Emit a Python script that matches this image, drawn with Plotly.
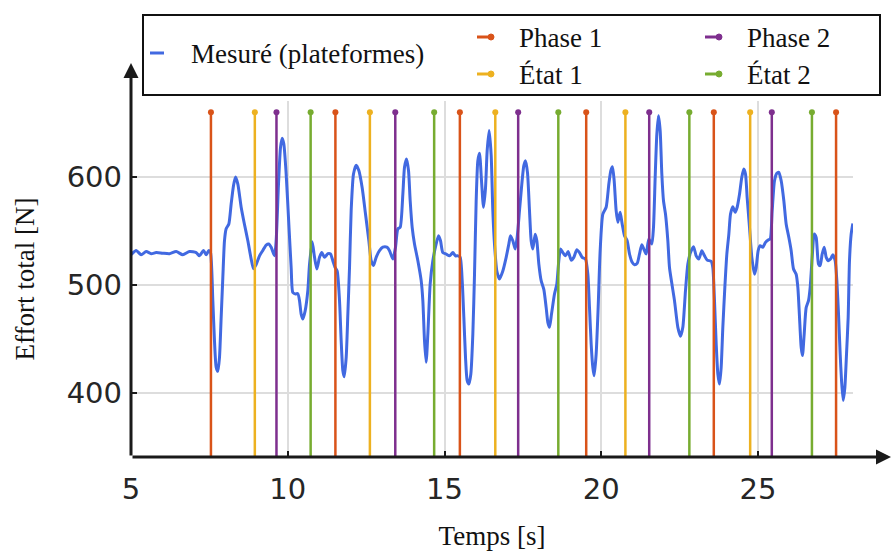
import plotly.graph_objects as go

# ---- data ----
temps = [5.00, 5.165, 5.324, 5.484, 5.643, 5.803, 6.0, 6.228, 6.441, 6.653, 6.866, 7.079, 7.185, 7.312, 7.398, 7.483,
         7.536, 7.610, 7.663, 7.716, 7.770, 7.823, 7.876, 7.929, 7.982, 8.035, 8.121, 8.195, 8.269, 8.333, 8.408,
         8.514, 8.620, 8.727, 8.833, 8.907, 8.992, 9.099, 9.205, 9.311, 9.396, 9.471, 9.577, 9.630, 9.705, 9.769,
         9.822, 9.875, 9.949, 10.034, 10.109, 10.162, 10.247, 10.321, 10.375, 10.428, 10.481, 10.555, 10.641, 10.694,
         10.78, 10.854, 10.928, 11.013, 11.087, 11.173, 11.279, 11.364, 11.438, 11.513, 11.576, 11.651, 11.704, 11.757,
         11.800, 11.864, 11.917, 11.970, 12.023, 12.097, 12.183, 12.268, 12.374, 12.480, 12.587, 12.661, 12.735,
         12.820, 12.927, 13.033, 13.161, 13.246, 13.352, 13.437, 13.512, 13.586, 13.671, 13.724, 13.788, 13.852,
         13.905, 13.969, 14.043, 14.150, 14.256, 14.309, 14.362, 14.415, 14.469, 14.543, 14.628, 14.734, 14.809,
         14.873, 14.947, 15.053, 15.160, 15.266, 15.351, 15.426, 15.500, 15.564, 15.617, 15.670, 15.723, 15.776,
         15.840, 15.904, 15.957, 16.010, 16.063, 16.117, 16.180, 16.244, 16.308, 16.361, 16.425, 16.489, 16.541,
         16.594, 16.669, 16.754, 16.860, 16.967, 17.052, 17.105, 17.179, 17.254, 17.317, 17.392, 17.466, 17.530,
         17.583, 17.647, 17.711, 17.764, 17.817, 17.892, 17.945, 18.009, 18.083, 18.168, 18.243, 18.296, 18.349,
         18.413, 18.508, 18.583, 18.636, 18.700, 18.774, 18.859, 18.944, 19.040, 19.125, 19.221, 19.306, 19.391,
         19.497, 19.572, 19.625, 19.678, 19.731, 19.774, 19.837, 19.901, 19.965, 20.050, 20.156, 20.242, 20.305,
         20.358, 20.412, 20.475, 20.529, 20.603, 20.667, 20.741, 20.826, 20.901, 20.986, 21.060, 21.145, 21.220,
         21.294, 21.358, 21.432, 21.517, 21.613, 21.666, 21.720, 21.773, 21.826, 21.879, 21.932, 21.985, 22.049,
         22.124, 22.177, 22.262, 22.336, 22.443, 22.528, 22.602, 22.687, 22.762, 22.847, 22.943, 23.028, 23.113,
         23.208, 23.294, 23.379, 23.506, 23.559, 23.612, 23.666, 23.719, 23.772, 23.825, 23.878, 23.942, 24.006,
         24.070, 24.123, 24.197, 24.272, 24.335, 24.410, 24.484, 24.548, 24.601, 24.654, 24.729, 24.803, 24.888,
         24.941, 25.005, 25.069, 25.154, 25.239, 25.324, 25.388, 25.452, 25.526, 25.601, 25.665, 25.739, 25.824,
         25.898, 25.984, 26.058, 26.132, 26.217, 26.271, 26.324, 26.377, 26.419, 26.473, 26.536, 26.611, 26.664,
         26.728, 26.792, 26.855, 26.930, 26.983, 27.047, 27.111, 27.175, 27.238, 27.313, 27.387, 27.461, 27.515,
         27.568, 27.621, 27.664, 27.717, 27.770, 27.823, 27.876, 27.918, 27.972, 28.025]

effort = [528, 532, 528, 531, 529, 530, 529.5, 529, 531, 528, 531, 530, 527, 532, 528, 532,
          530, 485.5, 448, 424, 420, 433, 470, 507, 541, 552, 556.5, 575, 592, 600, 593.5,
          572, 556, 541, 524, 515, 519, 527, 532, 537, 538, 535, 527, 541, 593.5, 627.5,
          636, 630.5, 603, 556.5, 516, 493, 491.7, 492, 485.5, 473, 468.5, 476, 495, 519,
          540, 525.6, 514.8, 525.6, 530, 525.6, 529, 528.7, 522.5, 516, 513, 485.5, 448.5, 420.7,
          415, 433, 473, 516, 569, 602.8, 611, 606, 590, 565.7, 541, 522.5, 518,
          525.6, 531.8, 535, 535, 531.8, 524, 535, 552, 553.4, 584, 609, 616.7, 606,
          578, 553.4, 538, 522.5, 504, 485.5, 448.5, 428.4, 454.6, 501, 522.5, 538, 545.7,
          541, 530, 528.7, 527, 530, 527, 527, 525.6, 504, 470, 433, 411.4, 408.3,
          417.6, 454.6, 510, 578, 615, 622, 596.6, 572, 590, 624.4, 643, 620, 568.8,
          538, 513, 505.5, 513, 525.6, 538, 545.7, 541, 533.3, 544, 568.8, 593.5, 610.5,
          615, 604, 568.8, 541, 533.3, 547, 541, 519.4, 504, 496, 479, 465.4, 460.8,
          473, 491.7, 501, 519.4, 533.3, 530, 527, 531, 523, 525.6, 532.7, 530, 525.6,
          524, 510, 479, 445.4, 423.8, 416, 436, 479, 531.8, 565.7, 572, 593.5, 605.9,
          609.6, 596.6, 568.8, 558, 567.3, 556.5, 545.7, 541, 528.7, 521, 518.8, 520, 528.7,
          537.3, 533.3, 528.7, 542.6, 538, 553.4, 600, 639.8, 656.8, 643, 602.8, 578, 565.7,
          541, 516, 499.4, 485.5, 460.8, 452.5, 460.8, 494.8, 519.4, 530, 535.5, 527, 524,
          531.8, 527, 523, 522, 516, 485.5, 445.4, 417.6, 408.3, 423.8, 460.8, 497.8, 528.7,
          547.2, 565.7, 572.5, 567.3, 572, 584, 600, 607.4, 602.8, 581, 553.4, 525.6, 510,
          516, 531.8, 536.4, 535, 539.5, 541.7, 542.6, 568.8, 596.6, 603.4, 604.3, 596.6, 578,
          556.5, 544, 531.8, 514.8, 510, 497.8, 470, 442.3, 434.6, 454.6, 479, 485.5, 497.8,
          525.6, 547.2, 544, 519.4, 517.9, 528.7, 535, 525.6, 522.5, 524, 528, 522.5, 504,
          473, 436, 411.4, 393, 405, 436, 470, 522.5, 547.2, 557]

phase1 = [7.55, 11.52, 15.49, 19.52, 23.59, 27.49]
etat1 = [8.95, 12.62, 16.62, 20.77, 24.75]
phase2 = [9.64, 13.43, 17.35, 21.53, 25.44]
etat2 = [10.73, 14.67, 18.63, 22.81, 26.72]

event_top = 660
event_bottom = 300

x_ticks = [5, 10, 15, 20, 25]
y_ticks = [400, 500, 600]
x_range = [5, 28.03]
y_range = [340.7, 670.4]

series_names = ["Mesuré (plateformes)", "Phase 1", "État 1", "Phase 2", "État 2"]
colors = {"Mesuré (plateformes)": "#4169E1", "Phase 1": "#D95319", "État 1": "#EDB120",
          "Phase 2": "#7E2F8E", "État 2": "#77AC30"}
events = {"Phase 1": phase1, "État 1": etat1, "Phase 2": phase2, "État 2": etat2}

# ---- figure ----
fig = go.Figure()
fig.add_trace(go.Scatter(x=temps, y=effort, mode="lines", name=series_names[0],
                         line=dict(color=colors[series_names[0]], width=3, shape="spline", smoothing=0.6),
                         showlegend=False))

for name in ["Phase 1", "État 1", "Phase 2", "État 2"]:
    xs, ys = [], []
    for t in events[name]:
        xs += [t, t, None]
        ys += [event_bottom, event_top, None]
    fig.add_trace(go.Scatter(x=xs, y=ys, mode="lines+markers", name=name,
                             line=dict(color=colors[name], width=2.5),
                             marker=dict(symbol="circle", size=6, color=colors[name]),
                             showlegend=False))

L, R, T, B = 131, 40, 101, 95
W, H = 893, 552
pw, ph = W - L - R, H - T - B


def px_x(px):
    return (px - L) / pw


def px_y(py):
    return (H - B - py) / ph


serif = "Liberation Serif"
shapes = []
annotations = []

# legend box
shapes.append(dict(type="rect", xref="paper", yref="paper",
                   x0=px_x(143), x1=px_x(880), y0=px_y(95), y1=px_y(15),
                   line=dict(color="#111111", width=2), fillcolor="white", layer="above"))

legend_items = [
    ("Mesuré (plateformes)", 150, 53, 189, False),
    ("Phase 1", 477, 37, 517, True),
    ("État 1", 477, 74, 517, True),
    ("Phase 2", 705, 37, 745, True),
    ("État 2", 705, 74, 745, True),
]
for name, sx, sy, tx, dot in legend_items:
    c = colors[name]
    shapes.append(dict(type="line", xref="paper", yref="paper",
                       x0=px_x(sx), x1=px_x(sx + 14), y0=px_y(sy), y1=px_y(sy),
                       line=dict(color=c, width=3), layer="above"))
    if dot:
        shapes.append(dict(type="circle", xref="paper", yref="paper",
                           x0=px_x(sx + 11), x1=px_x(sx + 17), y0=px_y(sy + 3), y1=px_y(sy - 3),
                           line=dict(color=c, width=1), fillcolor=c, layer="above"))
    annotations.append(dict(text=name, xref="paper", yref="paper", x=px_x(tx), y=px_y(sy + 1),
                            xanchor="left", yanchor="middle", showarrow=False,
                            font=dict(family=serif, size=27, color="#111111")))

# axis arrows
annotations.append(dict(text="", xref="paper", yref="paper", x=px_x(891), y=0,
                        ax=-(891 - L), ay=0, showarrow=True, arrowhead=2, arrowsize=1,
                        arrowwidth=3, arrowcolor="#1a1a1a"))
annotations.append(dict(text="", xref="paper", yref="paper", x=0, y=px_y(63),
                        ax=0, ay=(H - B - 63), showarrow=True, arrowhead=2, arrowsize=1,
                        arrowwidth=3, arrowcolor="#1a1a1a"))

fig.update_layout(
    width=W, height=H,
    margin=dict(l=L, r=R, t=T, b=B, pad=0, autoexpand=False),
    plot_bgcolor="white", paper_bgcolor="white",
    shapes=shapes, annotations=annotations,
    showlegend=False,
)
fig.update_xaxes(range=x_range, tickvals=x_ticks, ticks="inside", ticklen=6, tickwidth=2,
                 tickcolor="#1a1a1a", showgrid=True, gridcolor="#dddddd", gridwidth=2,
                 zeroline=False, showline=False, automargin=False,
                 tickfont=dict(family="DejaVu Sans", size=29, color="#262626"),
                 ticklabelstandoff=12,
                 title=dict(text="Temps [s]", font=dict(family=serif, size=27, color="#111111"), standoff=21))
fig.update_yaxes(range=y_range, tickvals=y_ticks, ticks="inside", ticklen=6, tickwidth=2,
                 tickcolor="#1a1a1a", showgrid=True, gridcolor="#dddddd", gridwidth=2,
                 zeroline=False, showline=False, automargin=False,
                 tickfont=dict(family="DejaVu Sans", size=29, color="#262626"),
                 ticklabelstandoff=8,
                 title=dict(text="Effort total [N]", font=dict(family=serif, size=27, color="#111111"), standoff=24))

fig.write_html("out.html", config={"displayModeBar": False},
               post_script="document.body.style.margin='0';document.body.style.overflow='hidden';")
